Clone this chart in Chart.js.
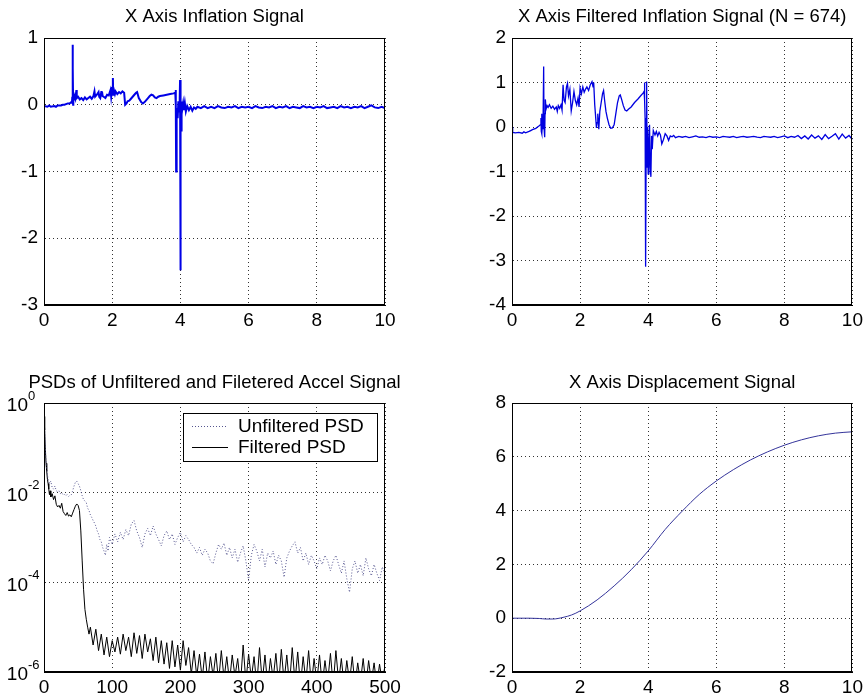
<!DOCTYPE html>
<html>
<head>
<meta charset="utf-8">
<title>Accel signals</title>
<script src="https://cdn.jsdelivr.net/npm/chart.js@4.4.1/dist/chart.umd.min.js"></script>
<style>
  html, body { margin: 0; padding: 0; background: #fff; }
  #fig { position: relative; width: 867px; height: 700px; background: #fff; overflow: hidden; }
  .panel { position: absolute; }
</style>
</head>
<body>
<div id="fig">
  <div class="panel" style="left:0;top:0;width:430px;height:340px"><canvas id="inflChart"></canvas></div>
  <div class="panel" style="left:430px;top:0;width:437px;height:340px"><canvas id="filtChart"></canvas></div>
  <div class="panel" style="left:0;top:340px;width:430px;height:360px"><canvas id="psdChart"></canvas></div>
  <div class="panel" style="left:430px;top:340px;width:437px;height:360px"><canvas id="dispChart"></canvas></div>
</div>
<script>
// -------------------------------------------------------------
// Data
// -------------------------------------------------------------

// Tick values
const timeTicks = [0, 2, 4, 6, 8, 10];
const freqTicks = [0, 100, 200, 300, 400, 500];
const inflTicks = [-3, -2, -1, 0, 1];
const filtTicks = [-4, -3, -2, -1, 0, 1, 2];
const dispTicks = [-2, 0, 2, 4, 6, 8];
const psdTicks = [1, 1e-2, 1e-4, 1e-6];
const psdTickExps = ['0', '-2', '-4', '-6'];

// 1. X axis inflation signal
const inflTime = [
    0, 0.1, 0.15, 0.2, 0.3, 0.35, 0.4, 0.5, 0.55, 0.6,
    0.7, 0.75, 0.8, 0.82, 0.83, 0.835, 0.84, 0.845, 0.85, 0.855,
    0.86, 0.88, 0.9, 0.92, 0.95, 0.96, 1.0, 1.05, 1.1, 1.15,
    1.2, 1.25, 1.3, 1.35, 1.4, 1.45, 1.48, 1.5, 1.55, 1.6,
    1.62, 1.65, 1.68, 1.7, 1.72, 1.75, 1.8, 1.85, 1.9, 1.95,
    1.97, 2.0, 2.02, 2.03, 2.05, 2.08, 2.1, 2.15, 2.2, 2.25,
    2.3, 2.35, 2.38, 2.42, 2.45, 2.5, 2.55, 2.6, 2.65, 2.7,
    2.73, 2.78, 2.85, 2.9, 2.95, 3.0, 3.05, 3.1, 3.15, 3.2,
    3.25, 3.3, 3.35, 3.4, 3.5, 3.6, 3.7, 3.8, 3.85, 3.86,
    3.87, 3.875, 3.88, 3.9, 3.92, 3.94, 3.96, 3.98, 3.99, 4.0,
    4.01, 4.02, 4.03, 4.04, 4.06, 4.08, 4.1, 4.13, 4.16, 4.2,
    4.25, 4.3, 4.35, 4.4, 4.45, 4.5, 4.6, 4.7, 4.8, 4.9,
    5.0, 5.1, 5.2, 5.3, 5.4, 5.5, 5.6, 5.7, 5.8, 5.9,
    6.0, 6.1, 6.2, 6.3, 6.4, 6.5, 6.6, 6.7, 6.8, 6.9,
    7.0, 7.1, 7.2, 7.3, 7.4, 7.5, 7.6, 7.7, 7.8, 7.9,
    8.0, 8.1, 8.2, 8.3, 8.4, 8.5, 8.6, 8.7, 8.8, 8.9,
    9.0, 9.1, 9.2, 9.3, 9.4, 9.5, 9.6, 9.7, 9.8, 9.9,
    10.0
];
const inflValue = [
    -0.02, -0.03, -0.01, -0.03, -0.02, -0.03, -0.01, -0.01, 0.0, 0.0,
    0.02, 0.02, 0.04, 0.03, 0.12, 0.05, 0.9, 0.05, 0.55, 0.0,
    0.1, 0.08, 0.12, 0.09, 0.22, 0.1, 0.12, 0.08, 0.1, 0.07,
    0.11, 0.08, 0.1, 0.12, 0.09, 0.13, 0.2, 0.12, 0.15, 0.19,
    0.12, 0.1, 0.19, 0.2, 0.13, 0.12, 0.1, 0.15, 0.14, 0.22,
    0.12, 0.25, 0.4, 0.15, 0.22, 0.16, 0.2, 0.16, 0.19, 0.17,
    0.2, 0.18, 0.0, 0.02, 0.05, 0.06, 0.09, 0.12, 0.15, 0.18,
    0.19, 0.1, 0.04, 0.02, 0.04, 0.07, 0.1, 0.13, 0.15, 0.14,
    0.11, 0.1, 0.12, 0.13, 0.14, 0.15, 0.16, 0.17, 0.18, 0.22,
    0.0, -1.0, -0.2, -0.05, -0.2, 0.05, -0.1, 0.1, 0.37, -2.48,
    0.05, -0.05, -0.4, 0.05, -0.05, 0.02, -0.08, 0.03, -0.1, -0.02,
    -0.08, -0.03, -0.09, -0.04, -0.06, -0.03, -0.05, -0.02, -0.05, -0.03,
    -0.05, -0.02, -0.04, -0.05, -0.03, -0.04, -0.02, -0.05, -0.03, -0.04,
    -0.03, -0.05, -0.02, -0.04, -0.05, -0.03, -0.04, -0.02, -0.05, -0.03,
    -0.04, -0.02, -0.05, -0.03, -0.04, -0.05, -0.02, -0.04, -0.03, -0.05,
    -0.03, -0.04, -0.02, -0.05, -0.04, -0.03, -0.05, -0.02, -0.04, -0.03,
    -0.05, -0.03, -0.04, -0.02, -0.05, -0.03, -0.01, -0.04, -0.05, -0.03,
    -0.05
];

// 2. X axis filtered inflation signal (N = 674)
const filtTime = [
    0, 0.02, 0.1, 0.2, 0.3, 0.35, 0.4, 0.5, 0.55, 0.6,
    0.7, 0.75, 0.8, 0.83, 0.85, 0.86, 0.87, 0.88, 0.9, 0.91,
    0.93, 0.94, 0.96, 0.97, 0.98, 1.0, 1.03, 1.06, 1.1, 1.15,
    1.2, 1.25, 1.3, 1.33, 1.36, 1.4, 1.44, 1.47, 1.5, 1.53,
    1.56, 1.6, 1.63, 1.66, 1.7, 1.74, 1.78, 1.82, 1.86, 1.9,
    1.94, 1.97, 2.0, 2.04, 2.08, 2.12, 2.16, 2.2, 2.25, 2.3,
    2.35, 2.38, 2.4, 2.43, 2.45, 2.48, 2.5, 2.52, 2.55, 2.58,
    2.62, 2.66, 2.69, 2.72, 2.76, 2.8, 2.85, 2.9, 2.95, 3.0,
    3.05, 3.1, 3.15, 3.18, 3.22, 3.27, 3.32, 3.37, 3.42, 3.5,
    3.6, 3.7, 3.8, 3.85, 3.88, 3.89, 3.9, 3.91, 3.92, 3.93,
    3.94, 3.95, 3.96, 3.97, 3.98, 4.0, 4.02, 4.04, 4.06, 4.08,
    4.1, 4.12, 4.15, 4.2, 4.24, 4.28, 4.32, 4.36, 4.4, 4.45,
    4.5, 4.55, 4.6, 4.65, 4.7, 4.75, 4.8, 4.9, 5.0,
    5.1, 5.2, 5.3, 5.4, 5.5, 5.6, 5.7, 5.8, 5.9, 6.0,
    6.1, 6.2, 6.3, 6.4, 6.5, 6.6, 6.7, 6.8, 6.9, 7.0,
    7.1, 7.2, 7.3, 7.4, 7.5, 7.6, 7.7, 7.8, 7.9, 8.0,
    8.1, 8.2, 8.3, 8.4, 8.5, 8.6, 8.7, 8.8, 8.9, 9.0,
    9.1, 9.2, 9.3, 9.4, 9.5, 9.6, 9.7, 9.8, 9.9, 10.0
];
const filtValue = [
    0.0, -0.12, -0.13, -0.12, -0.14, -0.11, -0.13, -0.1, -0.08, -0.06,
    -0.03, 0.0, 0.03, 0.05, 0.2, -0.1, 0.3, -0.15, 0.1, -0.05,
    1.36, 0.0, -0.23, 0.3, 0.62, 0.4, 0.48, 0.44, 0.5, 0.42,
    0.47, 0.4, 0.45, 0.35, 0.48, 0.42, 0.5, 0.38, 0.95, 0.6,
    0.55, 0.9, 0.98, 0.7, 0.85, 0.36, 0.55, 0.8, 0.6, 0.5,
    0.65, 0.45, 0.88, 0.75, 0.9, 0.78, 0.85, 0.9, 0.82, 0.95,
    1.02, 0.9, 1.0, 0.5, 0.3, -0.02, 0.1, 0.3, -0.05, 0.35,
    0.55, 0.75, 0.82, 0.6, 0.35, 0.2, 0.05, -0.03, -0.02, 0.05,
    0.3, 0.55, 0.7, 0.72, 0.62, 0.48, 0.38, 0.36, 0.4, 0.45,
    0.55, 0.63, 0.72, 0.76, 0.8, 1.0, 0.6, 0.2, -0.8, -3.14,
    -0.5, 0.2, 1.02, -0.9, 0.0, -1.05, -0.3, 0.05, -0.9, -1.12,
    -0.2, -0.5, -0.08, -0.18, -0.1, -0.2, -0.12, -0.18, -0.38, -0.28,
    -0.15, -0.2, -0.3, -0.2, -0.22, -0.19, -0.24, -0.21, -0.23,
    -0.21, -0.24, -0.22, -0.2, -0.23, -0.22, -0.24, -0.21, -0.23, -0.22,
    -0.24, -0.21, -0.22, -0.23, -0.21, -0.24, -0.22, -0.21, -0.23, -0.22,
    -0.21, -0.23, -0.24, -0.21, -0.22, -0.23, -0.21, -0.24, -0.22, -0.2,
    -0.24, -0.21, -0.23, -0.19, -0.26, -0.2, -0.27, -0.18, -0.25, -0.2,
    -0.28, -0.17, -0.26, -0.21, -0.15, -0.27, -0.16, -0.25, -0.19, -0.28
];

// 3. PSDs (frequency in Hz, power)
const unfiltFreq = [
    0, 1, 2, 3, 4, 5, 6,
    8, 10, 12, 14, 16, 18, 20, 22, 24, 26,
    28, 30, 32, 34, 36, 38, 40, 42, 44, 46,
    48, 50, 52, 54, 56, 58, 60, 62, 64, 66,
    68, 70, 72, 74, 76, 78, 80, 82, 84, 86,
    88, 90, 92, 94,
    96, 100, 104, 108, 112, 116, 120, 124, 128, 132,
    136, 140, 144, 148, 152, 156, 160, 164, 168, 172,
    176, 180, 184, 188, 192, 196, 200, 204, 208, 212,
    216, 220, 224, 228, 232, 236, 240, 244, 248, 252,
    256, 260, 264, 268, 272, 276, 280, 284, 288, 292,
    296, 300, 304, 308, 312, 316, 320, 324, 328, 332,
    336, 340, 344, 348, 352, 356, 360, 364, 368, 372,
    376, 380, 384, 388, 392, 396, 400, 404, 408, 412,
    416, 420, 424, 428, 432, 436, 440, 444, 448, 452,
    456, 460, 464, 468, 472, 476, 480, 484, 488, 492,
    496, 500
];
const unfiltPsd = [
    0.5, 0.25, 0.1, 0.05, 0.035, 0.025, 0.02,
    0.016, 0.018, 0.013, 0.012, 0.014, 0.011, 0.0105, 0.011, 0.0095, 0.01,
    0.009, 0.0092, 0.0085, 0.009, 0.0082, 0.0088, 0.009, 0.011, 0.014, 0.017,
    0.018, 0.016, 0.014, 0.011, 0.0085, 0.007, 0.0065, 0.006, 0.0045, 0.004,
    0.0032, 0.0028, 0.0024, 0.0021, 0.0018, 0.0014, 0.0012, 0.0009, 0.0008, 0.0006,
    0.0005, 0.0004, 0.0007, 0.0005,
    1.0e-3, 7e-4, 1.2e-3, 8e-4, 1.3e-3, 9e-4, 1.5e-3, 1.1e-3, 2.0e-3, 2.4e-3,
    1.4e-3, 1.0e-3, 6e-4, 1.2e-3, 1.6e-3, 1.1e-3, 1.8e-3, 1.2e-3, 9e-4, 6.5e-4,
    1.1e-3, 1.4e-3, 9e-4, 1.2e-3, 7e-4, 1.0e-3, 1.3e-3, 8e-4, 1.1e-3, 9e-4,
    7e-4, 6e-4, 4.5e-4, 6e-4, 4e-4, 5.5e-4, 4.5e-4, 3e-4, 2.6e-4, 4.5e-4,
    7e-4, 5.5e-4, 7.5e-4, 4e-4, 6e-4, 3.5e-4, 5.5e-4, 2.8e-4, 4.5e-4, 6.5e-4,
    3e-4, 1.1e-4, 4e-4, 7e-4, 5e-4, 3e-4, 5.5e-4, 2.2e-4, 4.5e-4, 3.5e-4,
    5e-4, 2.5e-4, 4e-4, 3e-4, 1.3e-4, 3.5e-4, 5e-4, 6.5e-4, 8e-4, 4.5e-4,
    6e-4, 3e-4, 4.5e-4, 2.5e-4, 4e-4, 3e-4, 2e-4, 3.5e-4, 2.5e-4, 4e-4,
    3e-4, 1.8e-4, 3e-4, 4e-4, 2.5e-4, 1.6e-4, 3e-4, 1.2e-4, 6e-5, 2e-4,
    3e-4, 1.6e-4, 2.5e-4, 1.4e-4, 3.5e-4, 2e-4, 1.4e-4, 2.5e-4, 1.6e-4, 1.1e-4,
    2.2e-4, 1.6e-4
];
const filtFreq = [
    0, 1, 2, 3, 4, 5, 6, 7, 8, 9, 10,
    12, 14, 16, 18, 20, 22, 24, 26, 28, 30,
    32, 34, 36, 38, 40, 42, 44, 46, 48, 50,
    52, 54, 56, 58, 60, 62, 64, 66,
    68, 72, 76, 80, 84, 88, 92, 96, 100, 104,
    108, 112, 116, 120, 124, 128, 132, 136, 140, 144,
    148, 152, 156, 160, 164, 168, 172, 176, 180, 184,
    188, 192, 196, 200, 204, 208, 212, 216, 220, 224,
    228, 232, 236, 240, 244, 248, 252, 256, 260, 264,
    268, 272, 276, 280, 284, 288, 292, 296, 300, 304,
    308, 312, 316, 320, 324, 328, 332, 336, 340, 344,
    348, 352, 356, 360, 364, 368, 372, 376, 380, 384,
    388, 392, 396, 400, 404, 408, 412, 416, 420, 424,
    428, 432, 436, 440, 444, 448, 452, 456, 460, 464,
    468, 472, 476, 480, 484, 488, 492, 496, 500
];
const filtPsd = [
    0.5, 0.25, 0.09, 0.045, 0.03, 0.02, 0.016, 0.012, 0.009, 0.011, 0.008,
    0.0095, 0.007, 0.0085, 0.0055, 0.0048, 0.0052, 0.0045, 0.0058, 0.0038, 0.0034,
    0.0031, 0.0036, 0.0030, 0.0032, 0.0029, 0.0035, 0.0042, 0.0050, 0.0056, 0.0052,
    0.0040, 0.0014, 0.0003, 7e-5, 2.5e-5, 1.5e-5, 1.0e-5, 7e-6,
    1.0e-5, 4e-6, 9e-6, 3e-6, 7e-6, 2.4e-6, 6e-6, 2.2e-6, 5e-6, 2.8e-6,
    6e-6, 2.5e-6, 7e-6, 3e-6, 6e-6, 2.2e-6, 7.5e-6, 2.6e-6, 6.5e-6, 2e-6,
    7e-6, 2.8e-6, 5.5e-6, 1.8e-6, 6e-6, 1.6e-6, 5e-6, 1.5e-6, 4.5e-6, 1.2e-6,
    5e-6, 1.3e-6, 4e-6, 1.1e-6, 5e-6, 1.4e-6, 3.5e-6, 9e-7, 3e-6, 8e-7,
    2.5e-6, 7e-7, 2.8e-6, 6e-7, 2.2e-6, 8e-7, 2.6e-6, 6e-7, 3e-6, 7e-7,
    2.2e-6, 6e-7, 2.4e-6, 8e-7, 2e-6, 5e-7, 4e-6, 6e-7, 2.5e-6, 7e-7,
    2.2e-6, 5e-7, 3.5e-6, 6e-7, 2.4e-6, 5e-7, 2e-6, 7e-7, 2.6e-6, 5e-7,
    3.2e-6, 6e-7, 2.4e-6, 5e-7, 3.5e-6, 6e-7, 2.8e-6, 5e-7, 2.2e-6, 6e-7,
    3e-6, 5e-7, 2e-6, 6e-7, 2.4e-6, 5e-7, 1.8e-6, 6e-7, 2.6e-6, 5e-7,
    3e-6, 6e-7, 2e-6, 5e-7, 1.8e-6, 6e-7, 2.2e-6, 5e-7, 1.6e-6, 6e-7,
    2e-6, 5e-7, 1.8e-6, 6e-7, 1.6e-6, 5e-7, 1.5e-6, 6e-7, 1.4e-6
];

// 4. X axis displacement signal
const dispTime = [0, 0.5, 0.8, 1.0, 1.2, 1.5, 1.75, 2.0, 2.5, 3.0, 3.5, 4.0,
    4.5, 5.0, 5.5, 6.0, 6.5, 7.0, 7.5, 8.0, 8.5, 9.0, 9.5, 10.0];
const dispValue = [0, 0, -0.01, -0.03, -0.03, 0.03, 0.12, 0.27, 0.68, 1.2, 1.8, 2.5,
    3.3, 3.98, 4.6, 5.1, 5.52, 5.88, 6.18, 6.43, 6.63, 6.78, 6.88, 6.93];

// -------------------------------------------------------------
// Drawing helpers
// -------------------------------------------------------------
const FONT_FAMILY = '"Liberation Sans", Arial, Helvetica, sans-serif';
Chart.defaults.font.family = FONT_FAMILY;
Chart.defaults.color = '#000';

const toPoints = (xs, ys) => xs.map((x, i) => ({ x: x, y: ys[i] }));

// solid box round the plot area
const framePlugin = {
    id: 'frame',
    afterDatasetsDraw(chart) {
        const { ctx, chartArea: a } = chart;
        ctx.save();
        ctx.strokeStyle = '#000';
        ctx.lineWidth = 1;
        ctx.strokeRect(Math.round(a.left) + 0.5, Math.round(a.top) + 0.5,
            Math.round(a.right - a.left) - 1, Math.round(a.bottom - a.top) - 1);
        ctx.restore();
    }
};

// centred title above each plot
const titlePlugin = {
    id: 'figTitle',
    afterDraw(chart, args, opts) {
        const { ctx, chartArea: a } = chart;
        ctx.save();
        ctx.fillStyle = '#000';
        ctx.font = '18.5px ' + FONT_FAMILY;
        ctx.textAlign = 'center';
        ctx.textBaseline = 'middle';
        ctx.fillText(opts.text, (a.left + a.right) / 2, a.top - opts.offset);
        ctx.restore();
    }
};

// 10^n labels for the log axis
const logLabelPlugin = {
    id: 'logLabels',
    afterDraw(chart) {
        const { ctx, chartArea: a } = chart;
        const yScale = chart.scales.y;
        ctx.save();
        ctx.fillStyle = '#000';
        ctx.textBaseline = 'middle';
        psdTicks.forEach((v, i) => {
            const py = yScale.getPixelForValue(v);
            const baseRight = a.left - 16;
            ctx.font = '19px ' + FONT_FAMILY;
            ctx.textAlign = 'right';
            ctx.fillText('10', baseRight, py + 3);
            ctx.font = '13px ' + FONT_FAMILY;
            ctx.textAlign = 'left';
            ctx.fillText(psdTickExps[i], baseRight, py - 7);
        });
        ctx.restore();
    }
};

// boxed legend inside the PSD plot
const boxLegendPlugin = {
    id: 'boxLegend',
    afterDraw(chart, args, opts) {
        const { ctx, chartArea: a } = chart;
        const x0 = a.left + opts.left, y0 = a.top + opts.top;
        ctx.save();
        ctx.fillStyle = '#fff';
        ctx.fillRect(x0, y0, opts.width, opts.height);
        ctx.strokeStyle = '#000';
        ctx.lineWidth = 1;
        ctx.strokeRect(Math.round(x0) + 0.5, Math.round(y0) + 0.5, opts.width, opts.height);
        chart.data.datasets.forEach((ds, i) => {
            const cy = y0 + 13 + i * 21;
            ctx.beginPath();
            ctx.setLineDash(ds.borderDash || []);
            ctx.strokeStyle = ds.borderColor;
            ctx.lineWidth = ds.borderWidth;
            ctx.moveTo(x0 + 9, Math.round(cy) + 0.5);
            ctx.lineTo(x0 + 45, Math.round(cy) + 0.5);
            ctx.stroke();
            ctx.setLineDash([]);
            ctx.fillStyle = '#000';
            ctx.font = '19px ' + FONT_FAMILY;
            ctx.textAlign = 'left';
            ctx.textBaseline = 'middle';
            ctx.fillText(ds.label, x0 + 55, cy + 1);
        });
        ctx.restore();
    }
};

const gridDefaults = { color: '#333', lineWidth: 1, drawTicks: false };
const borderDefaults = { color: '#000', width: 1, dash: [1, 3] };
const tickFont = { size: 19, family: FONT_FAMILY };

function makePanel(canvasId, cfg) {
    const yScale = cfg.yLog ? {
        type: 'logarithmic',
        min: cfg.yTicks[cfg.yTicks.length - 1],
        max: cfg.yTicks[0],
        afterBuildTicks: s => { s.ticks = cfg.yTicks.map(v => ({ value: v })); },
        afterFit: s => { s.width = cfg.yWidth; },
        ticks: { display: false },
        grid: gridDefaults,
        border: borderDefaults
    } : {
        type: 'linear',
        min: cfg.yTicks[0],
        max: cfg.yTicks[cfg.yTicks.length - 1],
        afterBuildTicks: s => { s.ticks = cfg.yTicks.map(v => ({ value: v })); },
        afterFit: s => { s.width = cfg.yWidth; },
        ticks: { font: tickFont, color: '#000', padding: 6 },
        grid: gridDefaults,
        border: borderDefaults
    };

    return new Chart(document.getElementById(canvasId), {
        type: 'line',
        data: { datasets: cfg.datasets },
        options: {
            responsive: true,
            maintainAspectRatio: false,
            animation: false,
            events: [],
            layout: { padding: { top: cfg.padTop, right: cfg.padRight, left: 0, bottom: 0 } },
            elements: { point: { radius: 0 }, line: { tension: 0 } },
            plugins: {
                legend: { display: false },
                tooltip: { enabled: false },
                figTitle: { text: cfg.title, offset: cfg.titleOffset },
                boxLegend: cfg.legendBox || {}
            },
            scales: {
                x: {
                    type: 'linear',
                    min: cfg.xTicks[0],
                    max: cfg.xTicks[cfg.xTicks.length - 1],
                    afterBuildTicks: s => { s.ticks = cfg.xTicks.map(v => ({ value: v })); },
                    afterFit: s => { s.height = cfg.xHeight; },
                    ticks: { font: tickFont, color: '#000', padding: 4, maxRotation: 0, autoSkip: false },
                    grid: gridDefaults,
                    border: borderDefaults
                },
                y: yScale
            }
        },
        plugins: [framePlugin, titlePlugin].concat(cfg.extraPlugins || [])
    });
}

// 1. Inflation signal
makePanel('inflChart', {
    title: 'X Axis Inflation Signal', titleOffset: 21,
    padTop: 38, padRight: 45, yWidth: 44, xHeight: 35,
    xTicks: timeTicks, yTicks: inflTicks,
    datasets: [{
        label: 'Inflation',
        data: toPoints(inflTime, inflValue),
        borderColor: '#0000e6',
        borderWidth: 2
    }]
});

// 2. Filtered inflation signal
makePanel('filtChart', {
    title: 'X Axis Filtered Inflation Signal (N = 674)', titleOffset: 21,
    padTop: 38, padRight: 14, yWidth: 82, xHeight: 35,
    xTicks: timeTicks, yTicks: filtTicks,
    datasets: [{
        label: 'Filtered',
        data: toPoints(filtTime, filtValue),
        borderColor: '#0000e0',
        borderWidth: 1.3
    }]
});

// 3. PSDs
makePanel('psdChart', {
    title: 'PSDs of Unfiltered and Filetered Accel Signal', titleOffset: 20,
    padTop: 63, padRight: 45, yWidth: 44, xHeight: 28,
    xTicks: freqTicks, yTicks: psdTicks, yLog: true,
    legendBox: { left: 139, top: 10, width: 194, height: 48 },
    extraPlugins: [logLabelPlugin, boxLegendPlugin],
    datasets: [{
        label: 'Unfiltered PSD',
        data: toPoints(unfiltFreq, unfiltPsd),
        borderColor: '#55558f',
        borderWidth: 1,
        borderDash: [1, 2]
    }, {
        label: 'Filtered PSD',
        data: toPoints(filtFreq, filtPsd),
        borderColor: '#000',
        borderWidth: 1
    }]
});

// 4. Displacement
makePanel('dispChart', {
    title: 'X Axis Displacement Signal', titleOffset: 20,
    padTop: 63, padRight: 14, yWidth: 82, xHeight: 28,
    xTicks: timeTicks, yTicks: dispTicks,
    datasets: [{
        label: 'Displacement',
        data: toPoints(dispTime, dispValue),
        borderColor: '#34349a',
        borderWidth: 1,
        cubicInterpolationMode: 'monotone'
    }]
});
</script>
</body>
</html>
